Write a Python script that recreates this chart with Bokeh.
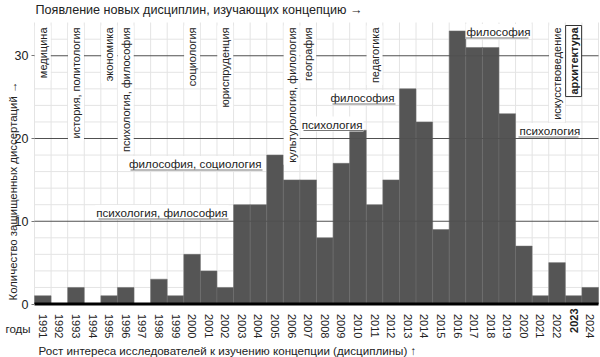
import math
from bokeh.plotting import figure
from bokeh.models import Label, FixedTicker, Range1d, ColumnDataSource, AllLabels
from bokeh.embed import file_html
from bokeh.resources import INLINE

# ---------------- data ----------------
years = list(range(1991, 2025))
counts = [1, 0, 2, 0, 1, 2, 0, 3, 1, 6, 4, 2, 12, 12, 18, 15, 15, 8, 17, 21,
          12, 15, 26, 22, 9, 33, 31, 31, 23, 7, 1, 5, 1, 2]

disc_years = [1991, 1993, 1995, 1996, 2000, 2002, 2006, 2007, 2011, 2022, 2023]
disc_names = ["медицина", "история, политология", "экономика",
              "психология, философия", "социология", "юриспруденция",
              "культурология, филология", "география", "педагогика",
              "искусствоведение", "архитектура"]

growth_names = ["психология, философия", "философия, социология", "психология",
                "философия", "философия", "психология"]

y_ticks = [0, 10, 20, 30]
major_levels = [10, 20, 30]
highlight_year = 2023

title_top = "Появление новых дисциплин, изучающих концепцию →"
title_bottom = "Рост интереса исследователей к изучению концепции (дисциплины) ↑"
y_title = "Количество защищенных диссертаций →"
x_title = "годы"

# ---------------- layout (pixels) ----------------
W, H = 600, 357
LEFT, RIGHT = 34, 598          # bar area left / right edge
ZERO, TOP = 303.5, 22          # y of value 0, top of bar area
X0, X1 = years[0] - 0.5, years[-1] + 0.5
PXU = (RIGHT - LEFT) / (X1 - X0)
PYU = 8.275
YTOP = (ZERO - TOP) / PYU
FONT = "Liberation Sans"
INK = "#222222"


def px_x(px):
    return X0 + (px - LEFT) / PXU


def px_y(py):
    return (ZERO - py) / PYU


p = figure(width=W, height=H, output_backend="svg", toolbar_location=None,
           x_range=Range1d(px_x(0), px_x(W)), y_range=Range1d(px_y(H), px_y(0)),
           min_border=0)
p.min_border_left = p.min_border_right = p.min_border_top = p.min_border_bottom = 0
p.outline_line_color = None
p.background_fill_color = "white"
p.border_fill_color = "white"
p.xgrid.visible = False
p.ygrid.visible = False

# light grid (limited to the bar area)
vx = [X0 + k for k in range(len(years) + 1)]
p.segment(x0=vx, x1=vx, y0=[0] * len(vx), y1=[YTOP] * len(vx),
          line_color="#e4e4e4", line_width=1)
hy = [v for v in range(2, 33, 2) if v not in major_levels]
p.segment(x0=[X0] * len(hy), x1=[X1] * len(hy), y0=hy, y1=hy,
          line_color="#e4e4e4", line_width=1)

# axes fixed at the edges of the bar area
p.yaxis.fixed_location = X0
p.yaxis.ticker = FixedTicker(ticks=y_ticks)
p.yaxis.axis_line_color = None
p.yaxis.major_tick_out = 3
p.yaxis.major_tick_in = 0
p.yaxis.major_tick_line_color = "#777777"
p.yaxis.minor_tick_line_color = None
p.yaxis.major_label_standoff = 3
p.yaxis.major_label_text_font = FONT
p.yaxis.major_label_text_font_size = "12.5px"
p.yaxis.major_label_text_color = INK

p.xaxis.fixed_location = 0
p.xaxis.ticker = FixedTicker(ticks=years)
p.xaxis.axis_line_color = None
p.xaxis.major_tick_line_color = None
p.xaxis.minor_tick_line_color = None
p.xaxis.major_label_orientation = "vertical"
p.xaxis.major_label_standoff = 4
p.xaxis.major_label_policy = AllLabels()
p.xaxis.major_label_text_font = FONT
p.xaxis.major_label_text_font_size = "11px"
p.xaxis.major_label_text_color = INK
p.xaxis.major_label_overrides = {highlight_year: ""}

# bars
src = ColumnDataSource(dict(x=years, top=counts))
p.vbar(x="x", top="top", bottom=0, width=1, source=src,
       fill_color="#555555", line_color="#6e6e6e", line_width=0.5)

# major lines and baseline
p.segment(x0=[X0] * 3, x1=[X1] * 3, y0=major_levels, y1=major_levels,
          line_color="#505050", line_width=1.2)
p.segment(x0=[X0], x1=[X1], y0=[0], y1=[0], line_color="black", line_width=3)

# vertical discipline labels at the top
for yr, name in zip(disc_years, disc_names):
    bold = (yr == highlight_year)
    p.add_layout(Label(x=yr, y=px_y(25), text=name, angle=math.pi / 2,
                       text_align="right", text_baseline="middle",
                       text_font=FONT, text_font_size="11px",
                       text_font_style="bold" if bold else "normal",
                       text_color=INK, background_fill_color="white",
                       border_line_color="#333333" if bold else None,
                       border_line_width=1, padding=2))

# horizontal growth labels with underline: (anchor px, align, centre py, width px)
growth_pos = [(228, "right", 212, 130), (262, "right", 163, 132),
              (363, "right", 123.5, 60), (395, "right", 97, 63),
              (465, "left", 31, 63), (518, "left", 130, 60)]
for name, (ax, align, cy, wd) in zip(growth_names, growth_pos):
    p.add_layout(Label(x=px_x(ax), y=px_y(cy), text=name, text_align=align,
                       text_baseline="middle", text_font=FONT,
                       text_font_size="11.6px", text_color=INK,
                       background_fill_color="white", padding=1))
    xa, xb = (ax - wd, ax) if align == "right" else (ax, ax + wd)
    uy = px_y(cy + 6.5)
    p.segment(x0=[px_x(xa)], x1=[px_x(xb)], y0=[uy], y1=[uy], level="overlay",
              line_color="#777777", line_width=1)

# bold highlighted year on the x axis
p.add_layout(Label(x=highlight_year, y=px_y(308), text=str(highlight_year),
                   angle=math.pi / 2, text_align="right", text_baseline="middle",
                   text_font=FONT, text_font_size="11px",
                   text_font_style="bold", text_color=INK))

# axis titles
p.add_layout(Label(x=px_x(35), y=px_y(9), text=title_top, text_align="left",
                   text_baseline="middle", text_font=FONT,
                   text_font_size="12.6px", text_color=INK))
p.add_layout(Label(x=px_x(38), y=px_y(350), text=title_bottom,
                   text_align="left", text_baseline="middle", text_font=FONT,
                   text_font_size="11.6px", text_color=INK))
p.add_layout(Label(x=px_x(12), y=px_y(300), text=y_title, angle=math.pi / 2,
                   text_align="left", text_baseline="middle", text_font=FONT,
                   text_font_size="11.4px", text_color=INK))
p.add_layout(Label(x=px_x(30), y=px_y(328), text=x_title, text_align="right",
                   text_baseline="middle", text_font=FONT,
                   text_font_size="11.5px", text_color=INK))

open("out.html", "w").write(file_html(p, INLINE))
